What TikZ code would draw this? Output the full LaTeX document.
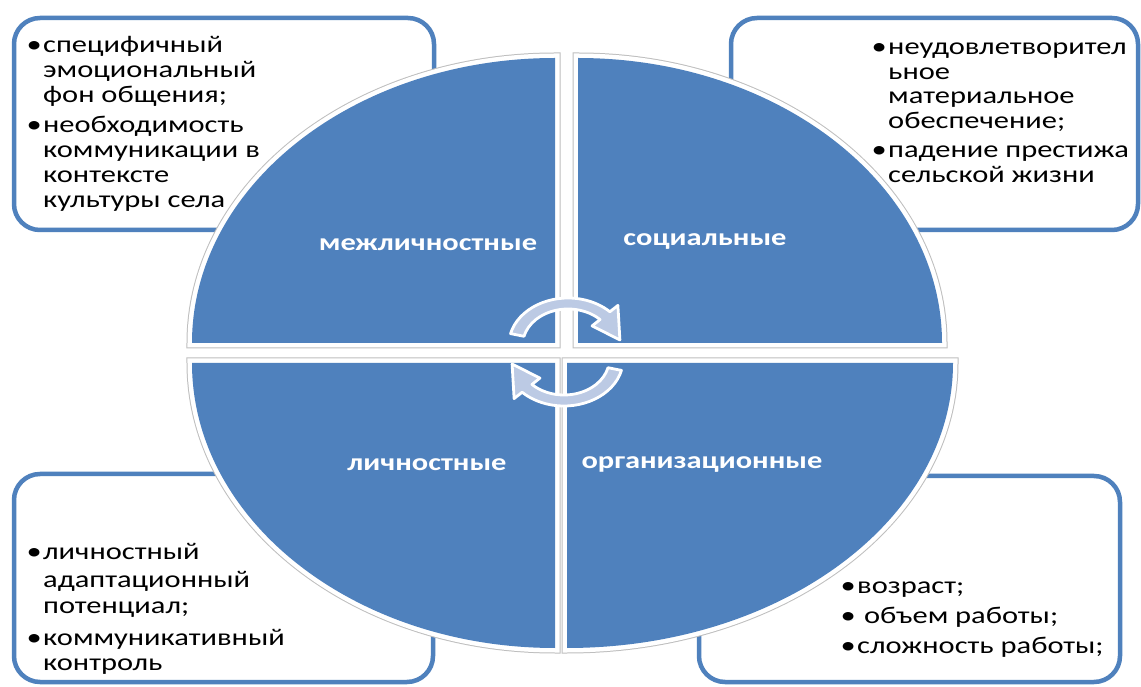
\documentclass[tikz,border=0pt]{standalone}
\usepackage{fontspec}
\setmainfont{Carlito}[FakeStretch=1.27]
\definecolor{accent}{RGB}{79,129,189}
\definecolor{secgray}{RGB}{190,190,190}
\definecolor{arrowfill}{RGB}{188,202,228}
\newcommand\bul{\llap{•\hspace{1.5pt}}}
\newcommand\secTL{(555,343) -- (192,343) arc[start angle=180,end angle=90,x radius=363pt,y radius=285pt] -- cycle}
\newcommand\secTR{(578,343) -- (578,628) arc[start angle=90,end angle=0,x radius=364pt,y radius=285pt] -- cycle}
\newcommand\secBL{(555,323) -- (555,38) arc[start angle=270,end angle=180,x radius=363pt,y radius=285pt] -- cycle}
\newcommand\secBR{(567,323) -- (953,323) arc[start angle=0,end angle=-90,x radius=386pt,y radius=285pt] -- cycle}
\newcommand\cycpath{(166:47) arc[start angle=166,end angle=45,radius=47pt] -- (45:56) -- (7:41.5) -- (45:27) -- (45:36) arc[start angle=45,end angle=166,radius=36pt] -- cycle}
\begin{document}
\begin{tikzpicture}[x=1pt,y=1pt,
  box/.style={draw=accent, line width=4.5pt, fill=white, rounded corners=26pt, inner sep=0pt},
  secgrayline/.style={draw=secgray, line width=11pt, line join=miter},
  secwhiteline/.style={draw=white, line width=9pt, line join=miter},
  secfill/.style={fill=accent},
  txt/.style={anchor=base west, inner sep=0pt, font=\fontsize{24}{25}\selectfont, text=black},
  lbl/.style={inner sep=0pt, font=\fontsize{24}{25}\selectfont\bfseries, text=white},
  cyc/.style={fill=arrowfill, draw=white, line width=2.8pt, line join=round}]
\useasboundingbox (0,0) rectangle (1141,686);
\fill[white] (0,0) rectangle (1141,686);
% text boxes
\node[box, minimum width=420pt, minimum height=212pt] (boxtl) at (224,562) {};
\node[box, minimum width=407pt, minimum height=212pt] (boxtr) at (934.5,562) {};
\node[box, minimum width=419pt, minimum height=208pt] (boxbl) at (223.5,108) {};
\node[box, minimum width=421pt, minimum height=206pt] (boxbr) at (909.5,107) {};
% sectors
\foreach \s in {\secTL,\secTR,\secBL,\secBR}{
  \path[secgrayline] \s;
  \path[secwhiteline] \s;
  \path[secfill] \s;
}
% cycle arrows
\begin{scope}[shift={(568,341)}, xscale=1.26]
  \path[cyc] \cycpath;
\end{scope}
\begin{scope}[shift={(564,327)}, rotate=180, xscale=1.26]
  \path[cyc] \cycpath;
\end{scope}
% labels
\node[lbl] (lbltl) at (428,441) {межличностные};
\node[lbl] (lbltr) at (705,444) {социальные};
\node[lbl] (lblbl) at (427,221) {личностные};
\node[lbl] (lblbr) at (702,221) {организационные};
% texts
\foreach \y/\t [count=\i] in {633/{\bul специфичный}, 608/{эмоциональный}, 583/{фон общения;}, 553/{\bul необходимость}, 528/{коммуникации в}, 503/{контексте}, 478/{культуры села}}
  \node[txt] (tl\i) at (43,\y) {\t};
\foreach \y/\t [count=\i] in {631/{\bul неудовлетворител}, 606/{ьное}, 582/{материальное}, 557/{обеспечение;}, 528/{\bul падение престижа}, 503/{сельской жизни}}
  \node[txt] (tr\i) at (888,\y) {\t};
\foreach \y/\t [count=\i] in {126/{\bul личностный}, 99/{адаптационный}, 73/{потенциал;}, 41/{\bul коммуникативный}, 16/{контроль}}
  \node[txt] (bl\i) at (43,\y) {\t};
\node[txt] (br1) at (857,93) {\bul возраст;};
\node[txt] (br2) at (857,63) {\bul\ объем работы;};
\node[txt] (br3) at (857,33) {\bul сложность работы;};
\end{tikzpicture}
\end{document}
